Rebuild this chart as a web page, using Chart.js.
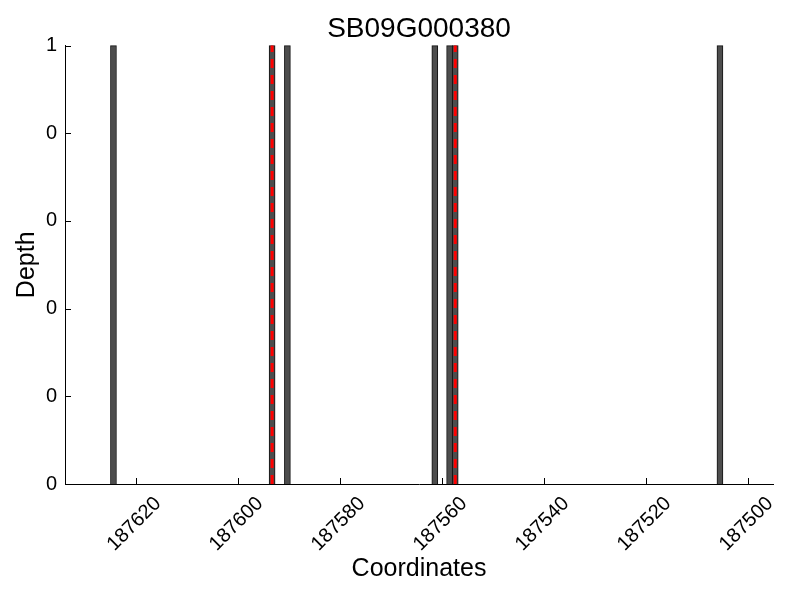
<!DOCTYPE html>
<html>
<head>
<meta charset="utf-8">
<title>SB09G000380</title>
<script src="https://cdn.jsdelivr.net/npm/chart.js@4"></script>
<style>
  html, body { margin: 0; padding: 0; background: #fff; }
  canvas { display: block; }
</style>
</head>
<body>
<canvas id="depthChart" width="800" height="600"></canvas>
<script>
const barPositions = [187624.4, 187593.3, 187590.3, 187561.4, 187558.5, 187557.4, 187505.5];
const barDepths = [1, 1, 1, 1, 1, 1, 1];
const markerPositions = [187593.3, 187557.4];
const xTickValues = [187620, 187600, 187580, 187560, 187540, 187520, 187500];
const yTickValues = [0, 0.2, 0.4, 0.6, 0.8, 1];
const xRange = [187495.1, 187633.9];

const font = 'Liberation Sans, Arial, sans-serif';

// matplotlib style ticks pointing into the plot, title centred over the axes
const axesStyle = {
    id: 'axesStyle',
    afterLayout(chart) {
        if (chart.titleBlock) {
            chart.titleBlock.left = chart.chartArea.left;
            chart.titleBlock.right = chart.chartArea.right;
        }
    },
    afterDraw(chart) {
        const { ctx, scales: { x, y } } = chart;
        ctx.save();
        ctx.strokeStyle = '#000';
        ctx.lineWidth = 1;
        ctx.beginPath();
        xTickValues.forEach(v => {
            const px = Math.round(x.getPixelForValue(v)) + 0.5;
            ctx.moveTo(px, y.bottom);
            ctx.lineTo(px, y.bottom - 6);
        });
        yTickValues.forEach(v => {
            const py = Math.round(y.getPixelForValue(v)) + 0.5;
            ctx.moveTo(x.left, py);
            ctx.lineTo(x.left + 6, py);
        });
        ctx.stroke();
        ctx.restore();
    }
};

const markerSets = markerPositions.map(pos => ({
    type: 'line',
    data: [{ x: pos, y: 0 }, { x: pos, y: 1 }],
    borderColor: '#ff0000',
    borderWidth: 3,
    borderDash: [9, 7],
    pointRadius: 0,
    fill: false,
    clip: false,
    order: 0
}));

new Chart(document.getElementById('depthChart'), {
    type: 'bar',
    data: {
        datasets: [
            {
                data: barPositions.map((p, i) => ({ x: p, y: barDepths[i] })),
                backgroundColor: '#4d4d4d',
                borderColor: '#111',
                borderWidth: 1,
                barThickness: 6,
                clip: false,
                order: 1
            },
            ...markerSets
        ]
    },
    options: {
        responsive: false,
        animation: false,
        layout: { padding: { left: 0, right: 27, top: 0, bottom: 0 } },
        plugins: {
            legend: { display: false },
            tooltip: { enabled: false },
            title: {
                display: true,
                text: 'SB09G000380',
                color: '#000',
                font: { family: font, size: 28, weight: 'normal' },
                padding: { top: 12, bottom: 0 }
            }
        },
        scales: {
            x: {
                type: 'linear',
                reverse: true,
                offset: false,
                min: xRange[0],
                max: xRange[1],
                afterBuildTicks: s => { s.ticks = xTickValues.map(v => ({ value: v })); },
                afterFit: s => { s.height = 116; },
                grid: { display: false, drawTicks: false, offset: false },
                border: { display: true, color: '#000', width: 1 },
                ticks: {
                    color: '#000',
                    font: { family: font, size: 20 },
                    minRotation: 45,
                    maxRotation: 45,
                    labelOffset: 22,
                    padding: 8,
                    callback: v => String(v)
                },
                title: {
                    display: true,
                    text: 'Coordinates',
                    color: '#000',
                    font: { family: font, size: 25 },
                    padding: { top: 0, bottom: 16 }
                }
            },
            y: {
                min: 0,
                max: 1,
                afterBuildTicks: s => { s.ticks = yTickValues.map(v => ({ value: v })); },
                afterFit: s => { s.width = 65; },
                grid: { display: false, drawTicks: false },
                border: { display: true, color: '#000', width: 1 },
                ticks: {
                    color: '#000',
                    font: { family: font, size: 20 },
                    padding: 8,
                    callback: v => String(Math.floor(v + 1e-6))
                },
                title: {
                    display: true,
                    text: 'Depth',
                    color: '#000',
                    font: { family: font, size: 25 },
                    padding: { top: 12, bottom: 0 }
                }
            }
        }
    },
    plugins: [axesStyle]
});
</script>
</body>
</html>
